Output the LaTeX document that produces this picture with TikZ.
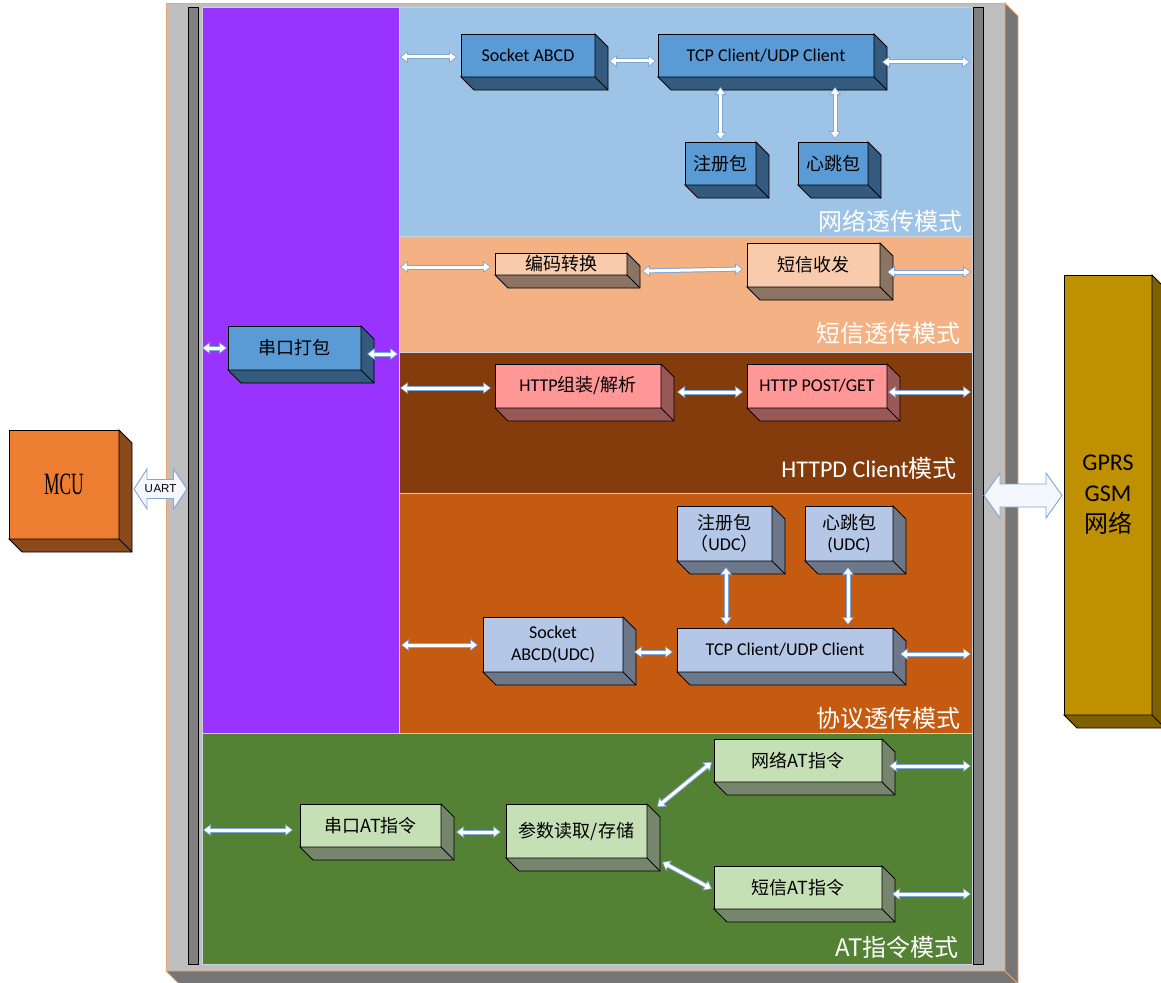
\documentclass[tikz,border=0pt]{standalone}
\usepackage{fontspec}
\usepackage{graphicx}
\setmainfont{Carlito}
\newfontfamily\cjk{Noto Sans CJK SC}
\newfontfamily\serifx{Liberation Serif}
\newfontfamily\arialx{Liberation Sans}
\usetikzlibrary{arrows.meta,calc}
\definecolor{framefill}{HTML}{BFBFBF}
\definecolor{frameside}{HTML}{767676}
\definecolor{frameline}{HTML}{F2A36B}
\definecolor{barfill}{HTML}{808080}
\definecolor{purp}{HTML}{9933FF}
\definecolor{netc}{HTML}{9DC3E6}
\definecolor{smsc}{HTML}{F4B183}
\definecolor{httpc}{HTML}{843C0C}
\definecolor{protoc}{HTML}{C55A11}
\definecolor{atc}{HTML}{548235}
\definecolor{pline}{HTML}{CDD3DC}
\definecolor{blueF}{HTML}{5B9BD5}
\definecolor{blueS}{HTML}{345A7E}
\definecolor{peachF}{HTML}{F8CBAD}
\definecolor{peachS}{HTML}{8C7462}
\definecolor{pinkF}{HTML}{FF9797}
\definecolor{pinkS}{HTML}{985858}
\definecolor{lblueF}{HTML}{B4C7E7}
\definecolor{lblueS}{HTML}{6C7889}
\definecolor{greenF}{HTML}{C5E0B4}
\definecolor{greenS}{HTML}{76866C}
\definecolor{mcuF}{HTML}{ED7D31}
\definecolor{mcuS}{HTML}{8B4A1C}
\definecolor{gprsF}{HTML}{BF9000}
\definecolor{gprsS}{HTML}{7F6000}
\definecolor{arrowc}{HTML}{7FA6D4}
\definecolor{arrowfill}{HTML}{F4F8FC}
\newcommand\zh[1]{{\cjk #1}}
\newcommand\boxfont{\fontsize{18}{22}\selectfont}
\newcommand\labfont{\fontsize{24}{28}\selectfont}
\newcommand\extrude[3]{%
  \draw[line width=0.9pt, draw=#3, fill=#2, line join=miter]
    (#1.north east) -- ++(13,13) -- ($(#1.south east)+(13,13)$)
    -- ($(#1.south west)+(13,13)$) -- (#1.south west) -- (#1.south east) -- cycle;
  \draw[line width=0.9pt, draw=#3] (#1.south east) -- ++(13,13);}
\tikzset{
  pnl/.style={anchor=north west, inner sep=0pt, outer sep=0pt, draw=pline, line width=0.8pt},
  bx/.style={anchor=north west, inner sep=0pt, outer sep=0pt, draw=black, line width=0.9pt,
    align=center, font=\boxfont, text=black},
  mlabel/.style={anchor=east, text=white, font=\labfont, inner sep=0pt},
  lnk/.style={line width=3pt, white, shorten <=1.3pt, shorten >=1.3pt,
    {Triangle[length=5.5pt,width=8pt]}-{Triangle[length=5.5pt,width=8pt]},
    preaction={draw=arrowc, line width=5pt, shorten <=0pt, shorten >=0pt,
      {Triangle[length=8pt,width=11.5pt]}-{Triangle[length=8pt,width=11.5pt]}}},
  bigarrow/.style={draw=arrowc, line width=0.9pt, fill=arrowfill, line join=miter},
}
\begin{document}
\begin{tikzpicture}[x=1pt,y=-1pt]
\useasboundingbox (0,0) rectangle (1161,982);
\clip (0,0) rectangle (1161,982);
% outer frame
\node[pnl, draw=frameline, fill=framefill, minimum width=839, minimum height=968] (frame) at (166,3) {};
\extrude{frame}{frameside}{frameline}
% bars
\node[pnl, draw=black, fill=barfill, minimum width=10, minimum height=957] (lbar) at (188,7) {};
\node[pnl, draw=black, fill=barfill, minimum width=10, minimum height=957] (rbar) at (973,7) {};
% panels
\node[pnl, fill=purp, minimum width=197, minimum height=726] (ppur) at (202,7) {};
\node[pnl, fill=netc, minimum width=573, minimum height=229] (pnet) at (399,7) {};
\node[pnl, fill=smsc, minimum width=573, minimum height=116] (psms) at (399,236) {};
\node[pnl, fill=httpc, minimum width=573, minimum height=141] (phttp) at (399,352) {};
\node[pnl, fill=protoc, minimum width=573, minimum height=240] (pproto) at (399,493) {};
\node[pnl, fill=atc, minimum width=770, minimum height=231] (pat) at (202,733) {};
% boxes: network
\node[bx, fill=blueF, minimum width=134, minimum height=43] (sock) at (461,34) {Socket ABCD};
\extrude{sock}{blueS}{black}
\node[bx, fill=blueF, minimum width=216, minimum height=43] (tcp1) at (658,34) {TCP Client/UDP Client};
\extrude{tcp1}{blueS}{black}
\node[bx, fill=blueF, minimum width=71, minimum height=43] (reg1) at (685,142) {\zh{注册包}};
\extrude{reg1}{blueS}{black}
\node[bx, fill=blueF, minimum width=70, minimum height=43] (hb1) at (798,142) {\zh{心跳包}};
\extrude{hb1}{blueS}{black}
% sms
\node[bx, fill=peachF, minimum width=132, minimum height=22] (code) at (495,253) {\zh{编码转换}};
\extrude{code}{peachS}{black}
\node[bx, fill=peachF, minimum width=133, minimum height=44] (smsr) at (747,243) {\zh{短信收发}};
\extrude{smsr}{peachS}{black}
% http
\node[bx, fill=pinkF, minimum width=166, minimum height=44] (http1) at (495,364) {HTTP\zh{组装/解析}};
\extrude{http1}{pinkS}{black}
\node[bx, fill=pinkF, minimum width=140, minimum height=44] (http2) at (747,364) {HTTP POST/GET};
\extrude{http2}{pinkS}{black}
% protocol
\node[bx, fill=lblueF, minimum width=95, minimum height=55] (reg2) at (677,506) {\zh{注册包}\\[-1pt]\zh{（}UDC\zh{）}};
\extrude{reg2}{lblueS}{black}
\node[bx, fill=lblueF, minimum width=88, minimum height=55] (hb2) at (805,506) {\zh{心跳包}\\[-1pt](UDC)};
\extrude{hb2}{lblueS}{black}
\node[bx, fill=lblueF, minimum width=140, minimum height=55] (sock2) at (483,617) {Socket\\ABCD(UDC)};
\extrude{sock2}{lblueS}{black}
\node[bx, fill=lblueF, minimum width=216, minimum height=44] (tcp2) at (677,628) {TCP Client/UDP Client};
\extrude{tcp2}{lblueS}{black}
% AT
\node[bx, fill=greenF, minimum width=141, minimum height=43] (sat) at (300,804) {\zh{串口AT指令}};
\extrude{sat}{greenS}{black}
\node[bx, fill=greenF, minimum width=141, minimum height=54] (param) at (506,804) {\zh{参数读取/存储}};
\extrude{param}{greenS}{black}
\node[bx, fill=greenF, minimum width=168, minimum height=43] (netat) at (714,739) {\zh{网络AT指令}};
\extrude{netat}{greenS}{black}
\node[bx, fill=greenF, minimum width=168, minimum height=43] (smsat) at (714,866) {\zh{短信AT指令}};
\extrude{smsat}{greenS}{black}
% serial pack
\node[bx, fill=blueF, minimum width=133, minimum height=44] (pack) at (228,326) {\zh{串口打包}};
\extrude{pack}{blueS}{black}
% links
\draw[lnk] ($(pnet.west |- sock.west)+(1,1.5)$) -- ($(sock.west)+(-4,1.5)$);
\draw[lnk] ($(sock.east)+(14,5.5)$) -- ($(tcp1.west)+(-2,5.5)$);
\draw[lnk] ($(tcp1.east)+(8,6.5)$) -- ($(pnet.east |- tcp1.east)+(-2,6.5)$);
\draw[lnk] ($(reg1.north |- tcp1.south)+(0,10)$) -- ($(reg1.north)+(0,-2)$);
\draw[lnk] ($(hb1.north |- tcp1.south)+(2,10)$) -- ($(hb1.north)+(2,-3)$);
\draw[lnk] ($(psms.west |- code.west)+(1,3)$) -- ($(code.west)+(-4,3)$);
\draw[lnk] ($(code.east)+(15,7)$) -- ($(smsr.west)+(-4,4)$);
\draw[lnk] ($(smsr.east)+(7,7)$) -- ($(psms.east |- smsr.east)+(-1,7)$);
\draw[lnk] ($(phttp.west |- http1.west)+(1,2)$) -- ($(http1.west)+(-4,2)$);
\draw[lnk] ($(http1.east)+(16,6)$) -- ($(http2.west)+(-4,6)$);
\draw[lnk] ($(http2.east)+(1,6)$) -- ($(phttp.east |- http2.east)+(-1,6)$);
\draw[lnk] ($(pproto.west |- sock2.west)+(2,0.5)$) -- ($(sock2.west)+(-5,0.5)$);
\draw[lnk] ($(sock2.east)+(11,7.5)$) -- ($(tcp2.west)+(-4,2)$);
\draw[lnk] ($(tcp2.east)+(7,4)$) -- ($(pproto.east |- tcp2.east)+(-1,4)$);
\draw[lnk] ($(reg2.south)+(1.5,6)$) -- ($(reg2.south |- tcp2.north)+(1.5,-3)$);
\draw[lnk] ($(hb2.south)+(-1,6)$) -- ($(hb2.south |- tcp2.north)+(-1,-3)$);
\draw[lnk] ($(pat.west |- sat.west)+(1,4.5)$) -- ($(sat.west)+(-7,4.5)$);
\draw[lnk] ($(sat.east)+(15,6.5)$) -- ($(param.west)+(-5,1)$);
\draw[lnk] ($(param.north east)+(10,3)$) -- ($(netat.south west)+(-2,-20)$);
\draw[lnk] ($(param.south east)+(15,4)$) -- ($(smsat.west)+(-2,1.5)$);
\draw[lnk] ($(netat.east)+(7,5.5)$) -- ($(pat.east |- netat.east)+(-1,5.5)$);
\draw[lnk] ($(smsat.east)+(10,6.5)$) -- ($(pat.east |- smsat.east)+(-1,6.5)$);
\draw[lnk] ($(ppur.west |- pack.west)+(0,0)$) -- ($(pack.west)+(-1,0)$);
\draw[lnk] ($(pack.east)+(6,6)$) -- ($(ppur.east |- pack.east)+(-1,6)$);
% mode labels
\node[mlabel] (lnet) at (963,221) {\zh{网络透传模式}};
\node[mlabel] (lsms) at (961,333) {\zh{短信透传模式}};
\node[mlabel] (lhttp) at (957,468) {HTTPD Client\zh{模式}};
\node[mlabel] (lproto) at (961,718) {\zh{协议透传模式}};
\node[mlabel] (lat) at (959,947) {\zh{AT指令模式}};
% MCU
\node[bx, fill=mcuF, minimum width=110, minimum height=109] (mcu) at (9,430)
  {\scalebox{0.56}[1]{\fontsize{31}{31}\serifx MCU}};
\extrude{mcu}{mcuS}{black}
% GPRS
\node[bx, fill=gprsF, minimum width=88, minimum height=440, font=\fontsize{24}{31}\selectfont] (gprs) at (1064,275)
  {GPRS\\GSM\\\zh{网络}};
\extrude{gprs}{gprsS}{black}
% big arrows
\coordinate (uartc) at (160.5,489);
\draw[bigarrow, shift={(uartc)}] (-26.5,0) -- (-13.5,-20) -- (-13.5,-9.5) -- (13,-9.5) -- (13,-20)
  -- (26.5,0) -- (13,20) -- (13,9.5) -- (-13.5,9.5) -- (-13.5,20) -- cycle;
\node[font=\arialx\fontsize{11.5}{12}\selectfont, inner sep=0pt] (uart) at (uartc) {U\kern0.5pt ART};
\coordinate (netc) at (1023,495.5);
\draw[bigarrow, shift={(netc)}] (-39,0) -- (-23,-22.5) -- (-23,-11.5) -- (23,-11.5) -- (23,-22.5)
  -- (39,0) -- (23,22.5) -- (23,11.5) -- (-23,11.5) -- (-23,22.5) -- cycle;
\end{tikzpicture}
\end{document}
